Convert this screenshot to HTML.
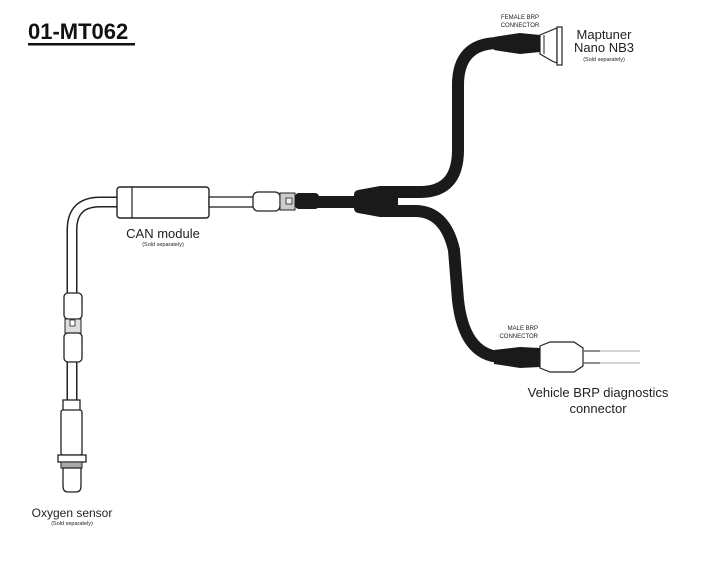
<!DOCTYPE html>
<html><head><meta charset="utf-8"><style>
html,body{margin:0;padding:0;background:#fff;}
svg{display:block;font-family:"Liberation Sans",Arial,sans-serif;}
</style></head><body>
<svg width="719" height="565" viewBox="0 0 719 565" xmlns="http://www.w3.org/2000/svg">
<rect width="719" height="565" fill="#fff"/>
<!-- title -->
<text x="28" y="39" font-size="22" font-weight="bold" fill="#111">01-MT062</text>
<rect x="28" y="43" width="107" height="2.5" fill="#111"/>

<!-- white cable left -->
<path d="M118 202 L100 202 Q72 202 72 230 L72 294" fill="none" stroke="#222" stroke-width="11"/>
<path d="M118 202 L100 202 Q72 202 72 230 L72 294" fill="none" stroke="#fff" stroke-width="8"/>
<path d="M72 360 L72 402" fill="none" stroke="#222" stroke-width="11"/>
<path d="M72 360 L72 402" fill="none" stroke="#fff" stroke-width="8"/>
<!-- connector on left vertical -->
<rect x="64" y="293" width="18" height="26" rx="4" fill="#fff" stroke="#222" stroke-width="1.3"/>
<rect x="65" y="319" width="16" height="14" fill="#ddd" stroke="#222" stroke-width="1"/>
<rect x="70" y="320" width="5" height="6" fill="#fff" stroke="#222" stroke-width="0.8"/>
<rect x="64" y="333" width="18" height="29" rx="4" fill="#fff" stroke="#222" stroke-width="1.3"/>
<!-- oxygen sensor -->
<rect x="63" y="400" width="17" height="11" fill="#fff" stroke="#222" stroke-width="1.3"/>
<rect x="61" y="410" width="21" height="45" rx="2" fill="#fff" stroke="#222" stroke-width="1.3"/>
<rect x="58" y="455" width="28" height="7" fill="#fff" stroke="#222" stroke-width="1.3"/>
<rect x="61" y="462" width="21" height="6" fill="#aaa" stroke="#222" stroke-width="1"/>
<path d="M63 468 L63 486 Q63 492 68 492 L76 492 Q81 492 81 486 L81 468 Z" fill="#fff" stroke="#222" stroke-width="1.3"/>

<!-- CAN module -->
<rect x="117" y="187" width="92" height="31" rx="3" fill="#fff" stroke="#222" stroke-width="1.4"/>
<line x1="132" y1="187" x2="132" y2="218" stroke="#222" stroke-width="1.2"/>
<!-- white cable right -->
<rect x="209" y="197" width="45" height="10" fill="#fff" stroke="#222" stroke-width="1.3"/>
<rect x="253" y="192" width="27" height="19" rx="5" fill="#fff" stroke="#222" stroke-width="1.3"/>
<rect x="280" y="193" width="15" height="17" fill="#ccc" stroke="#222" stroke-width="1"/>
<rect x="286" y="198" width="6" height="6" fill="#eee" stroke="#222" stroke-width="0.8"/>
<rect x="295" y="193" width="24" height="16" rx="4" fill="#1a1a1a"/>
<rect x="316" y="196" width="40" height="12" fill="#1a1a1a"/>
<!-- splitter -->
<path d="M358 190 L380 186 L396 186 L398 188 L398 215 L396 217 L380 217 L358 213 Q354 212 354 208 L354 195 Q354 191 358 190 Z" fill="#1a1a1a"/>
<!-- upper branch -->
<path d="M396 192 L420 192 Q458 192 458 150 L458 85 Q458 44 497 43" fill="none" stroke="#1a1a1a" stroke-width="12"/>
<!-- lower branch -->
<path d="M396 211 L415 211 Q445 211 454 250 L458 300 Q464 355 500 357" fill="none" stroke="#1a1a1a" stroke-width="12"/>
<!-- female connector -->
<path d="M494 37 L500 36 L520 33 L540 35 L540 52 L520 54 L500 51 L494 50 Z" fill="#1a1a1a"/>
<path d="M540 35 L552 30 L557 28 L557 63 L552 61 L540 54 Z" fill="#fff" stroke="#222" stroke-width="1.2"/>
<line x1="544" y1="35" x2="544" y2="54" stroke="#222" stroke-width="1"/>
<rect x="557" y="27" width="5" height="38" fill="#fff" stroke="#222" stroke-width="1.2"/>
<!-- male connector -->
<path d="M494 350 L520 347 L540 348 L540 367 L520 368 L494 364 Z" fill="#1a1a1a"/>
<path d="M540 346 L550 342 L574 342 L583 348 L583 366 L574 372 L550 372 L540 368 Z" fill="#fff" stroke="#222" stroke-width="1.2"/>
<line x1="583" y1="351" x2="640" y2="351" stroke="#bbb" stroke-width="1.2"/>
<line x1="583" y1="363" x2="640" y2="363" stroke="#bbb" stroke-width="1.2"/>
<line x1="583" y1="351" x2="600" y2="351" stroke="#555" stroke-width="1.2"/>
<line x1="583" y1="363" x2="600" y2="363" stroke="#555" stroke-width="1.2"/>

<!-- labels -->
<g fill="#222">
<text x="520" y="19" font-size="6" text-anchor="middle">FEMALE BRP</text>
<text x="520" y="27" font-size="6" text-anchor="middle">CONNECTOR</text>
<text x="604" y="39" font-size="13" text-anchor="middle">Maptuner</text>
<text x="604" y="52" font-size="13" text-anchor="middle">Nano NB3</text>
<text x="604" y="61" font-size="5.5" text-anchor="middle">(Sold separately)</text>
<text x="163" y="238" font-size="13" text-anchor="middle">CAN module</text>
<text x="163" y="246" font-size="5.5" text-anchor="middle">(Sold separately)</text>
<text x="538" y="330" font-size="6" text-anchor="end">MALE BRP</text>
<text x="538" y="338" font-size="6" text-anchor="end">CONNECTOR</text>
<text x="598" y="397" font-size="13" text-anchor="middle">Vehicle BRP diagnostics</text>
<text x="598" y="413" font-size="13" text-anchor="middle">connector</text>
<text x="72" y="517" font-size="12" text-anchor="middle">Oxygen sensor</text>
<text x="72" y="525" font-size="5.5" text-anchor="middle">(Sold separately)</text>
</g>
</svg>
</body></html>
